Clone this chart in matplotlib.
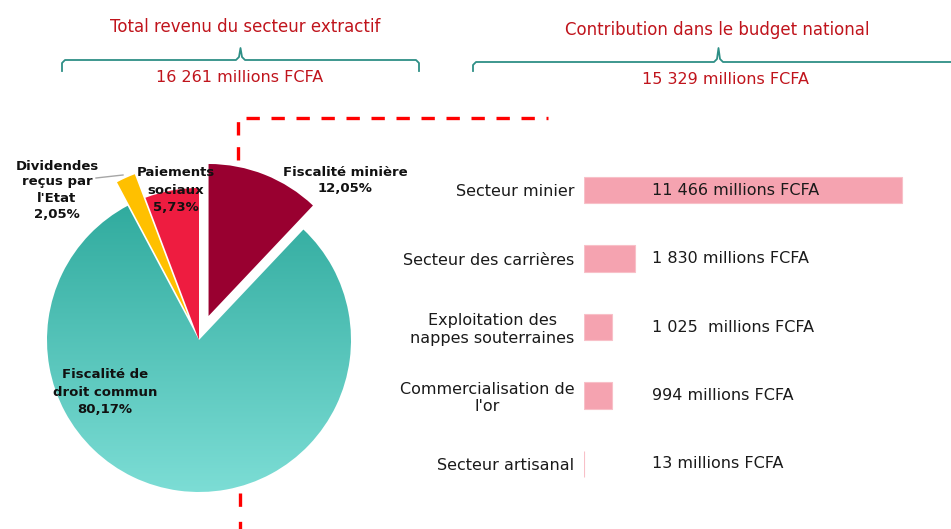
import numpy as np
import matplotlib
matplotlib.use("Agg")
import matplotlib.pyplot as plt
from matplotlib.colors import LinearSegmentedColormap

# pie: share of extractive revenue (clockwise from 12 o'clock)
pie_labels = ["Fiscalité minière\n12,05%", "Fiscalité de\ndroit commun\n80,17%",
              "Dividendes\nreçus par\nl'Etat\n2,05%", "Paiements\nsociaux\n5,73%"]
pie_values = [12.05, 80.17, 2.05, 5.73]
pie_colors = ["#990030", "#3FB3A8", "#FFC000", "#EE1C40"]
pie_explode = [0.17, 0.0, 0.17, 0.0]

# bars: contribution to the national budget
sectors = ["Secteur minier", "Secteur des carrières", "Exploitation des\nnappes souterraines",
           "Commercialisation de\nl'or", "Secteur artisanal"]
contrib = [11466, 1830, 1025, 994, 13]
contrib_labels = ["11 466 millions FCFA", "1 830 millions FCFA", "1 025  millions FCFA",
                  "994 millions FCFA", "13 millions FCFA"]

W, H = 951, 529
fig = plt.figure(figsize=(W / 100, H / 100), dpi=100)

red_title = "#C0141C"
teal_line = "#2E8F86"

# ---- pie (centre at pixel 199,340, radius 152 px) ----
cx, cy, R, L = 199, 340, 152, 1.35
side = 2 * L * R
axp = fig.add_axes([(cx - side / 2) / W, (H - cy - side / 2) / H, side / W, side / H])
wedges, _ = axp.pie(pie_values, colors=pie_colors, explode=pie_explode, startangle=90,
                    counterclock=False, radius=1, wedgeprops=dict(edgecolor="none"))
# gradient fill for the big teal slice
cmap = LinearSegmentedColormap.from_list("tl", ["#2CA89B", "#7CDDD5"])
grad = np.linspace(0, 1, 256).reshape(-1, 1)
im = axp.imshow(grad, extent=(-1, 1, -1, 1), cmap=cmap, aspect="auto", zorder=wedges[1].get_zorder())
im.set_clip_path(wedges[1])
wedges[1].set_facecolor("none")
axp.set_xlim(-L, L)
axp.set_ylim(-L, L)
axp.set_aspect("auto")
axp.axis("off")

# ---- bars ----
x0, x_end = 584, 902
ppu = (x_end - x0) / contrib[0]
xmax = 13000
row = 68.5
top = 190 - row / 2
axb = fig.add_axes([x0 / W, (H - (top + 5 * row)) / H, xmax * ppu / W, 5 * row / H])
ypos = np.arange(len(sectors))
axb.barh(ypos, contrib, height=0.38, color="#F5A3B0", edgecolor="#F8C0C8", linewidth=0.8)
axb.set_xlim(0, xmax)
axb.set_ylim(len(sectors) - 0.5, -0.5)
axb.set_yticks(ypos)
axb.set_yticklabels(sectors, fontsize=11.5, color="#1a1a1a", multialignment="center")
axb.tick_params(axis="y", length=0, pad=7)
axb.set_xticks([])
for s in axb.spines.values():
    s.set_visible(False)
axb.patch.set_visible(False)
for yv, lab in zip(ypos, contrib_labels):
    axb.text(2450, yv, lab, ha="left", va="center", fontsize=11.5, color="#1a1a1a")

# ---- overlay in pixel coordinates ----
ax = fig.add_axes([0, 0, 1, 1])
ax.set_xlim(0, W)
ax.set_ylim(H, 0)
ax.axis("off")
ax.patch.set_visible(False)

ax.text(245, 27, "Total revenu du secteur extractif", ha="center", va="center",
        fontsize=12, color=red_title)
ax.text(240, 78, "16 261 millions FCFA", ha="center", va="center", fontsize=11.5, color=red_title)
ax.text(717, 30, "Contribution dans le budget national", ha="center", va="center",
        fontsize=12, color=red_title)
ax.text(726, 80, "15 329 millions FCFA", ha="center", va="center", fontsize=11.5, color=red_title)

# braces
bx = [62, 62, 65, 236, 239, 240.5, 242, 245, 416, 419, 419]
by = [71, 63, 60, 60, 57, 48, 57, 60, 60, 63, 71]
ax.plot(bx, by, color=teal_line, lw=1.3, solid_joinstyle="round")
bx2 = [473, 473, 476, 714, 717, 718.5, 720, 723, 951]
by2 = [71, 65, 62, 62, 59, 48, 59, 62, 62]
ax.plot(bx2, by2, color=teal_line, lw=1.3, solid_joinstyle="round")

# red dashed connector
ax.plot([238, 238, 548], [160, 118, 118], color="#FF0000", lw=2.4, dashes=(4, 3.5))
ax.plot([240, 240], [493, 529], color="#FF0000", lw=2.4, dashes=(4, 4.5))

# pie labels
lab_kw = dict(ha="center", va="center", fontsize=9.5, fontweight="bold", color="#111111")
ax.text(345, 181, pie_labels[0], linespacing=1.3, **lab_kw)
ax.text(105, 392, pie_labels[1], linespacing=1.45, **lab_kw)
ax.text(57, 190, pie_labels[2], linespacing=1.3, **lab_kw)
ax.text(176, 190, pie_labels[3], linespacing=1.45, **lab_kw)
ax.plot([96, 123], [178, 175], color="#A6A6A6", lw=1)

fig.savefig("out.png", dpi=100)
